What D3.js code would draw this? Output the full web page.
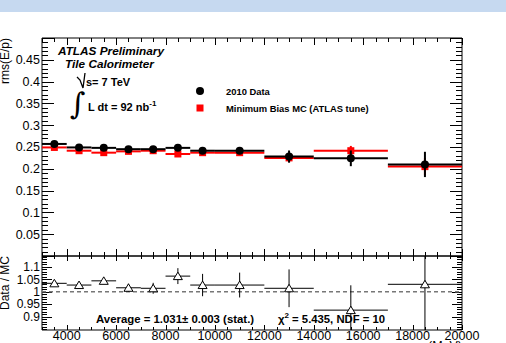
<!DOCTYPE html>
<html><head><meta charset="utf-8">
<script src="https://cdn.jsdelivr.net/npm/d3@7"></script>
<style>
html,body{margin:0;padding:0;background:#fff;}
svg{display:block;font-family:"Liberation Sans",Arial,Helvetica,sans-serif;}
</style></head>
<body>
<svg id="c" width="506" height="343"></svg>
<script>
// ---------- data ----------
const binLow  = [3000,4000,5000,6000,7000,8000,9000,10000,12000,14000,17000];
const binHigh = [4000,5000,6000,7000,8000,9000,10000,12000,14000,17000,20000];
const pCenter = [3500,4500,5500,6500,7500,8500,9500,11000,13000,15500,18500];
const dataRms = [0.257,0.249,0.248,0.245,0.245,0.248,0.2415,0.2415,0.228,0.224,0.210];
const dataErr = [0.002,0.002,0.002,0.002,0.003,0.003,0.004,0.005,0.014,0.018,0.029];
const mcRms   = [0.249,0.2415,0.237,0.240,0.2415,0.234,0.237,0.237,0.225,0.2415,0.205];
const mcErr   = [0.002,0.002,0.002,0.002,0.002,0.003,0.003,0.004,0.009,0.011,0.020];
const ratio   = [1.034,1.027,1.044,1.016,1.014,1.063,1.027,1.027,1.014,0.926,1.030];
const ratioErr= [0.010,0.010,0.008,0.016,0.022,0.032,0.045,0.050,0.076,0.100,0.200];
const xTicks  = [4000,6000,8000,10000,12000,14000,16000,18000,20000];
const yTopTicks = [0.05,0.1,0.15,0.2,0.25,0.3,0.35,0.4,0.45];
const yBotTicks = [0.9,0.95,1,1.05,1.1];
const legendLabels = ["2010 Data","Minimum Bias MC (ATLAS tune)"];

// ---------- layout ----------
const L=42, R=462, T1=38, B1=256, T2=256, B2=330;
const svg = d3.select("#c");
svg.append("rect").attr("x",0).attr("y",0).attr("width",506).attr("height",12).attr("fill","#c6d9f0");

const x = d3.scaleLinear().domain([3000,20000]).range([L,R]);
const yT = d3.scaleLinear().domain([0,0.5]).range([B1,T1]);
const yB = d3.scaleLinear().domain([0.846,1.144]).range([B2,T2]);

const minorX = d3.range(3000,20001,500);
const minorYT = d3.range(0,0.5001,0.01);
const minorYB = d3.range(0.85,1.1401,0.01);

function isMajor(v, arr){ return arr.some(a=>Math.abs(a-v)<1e-6); }

function frame(top,bottom,yScale,yMajors,yMinors,xMajLen,xMinLen,yMajLen,yMinLen,drawXLabels,labSize){
  const g = svg.append("g");
  [[L,1],[R,-1]].forEach(([px,dir])=>{
    g.append("line").attr("x1",px).attr("x2",px).attr("y1",top).attr("y2",bottom).attr("stroke","#000");
    yMinors.forEach(v=>{
      const yy = yScale(v); if(yy<top-0.1||yy>bottom+0.1) return;
      const len = isMajor(+v.toFixed(4), yMajors.concat([0,0.5]))? yMajLen : yMinLen;
      g.append("line").attr("x1",px).attr("x2",px+dir*len).attr("y1",Math.round(yy)+0.5).attr("y2",Math.round(yy)+0.5).attr("stroke","#000");
    });
  });
  [[top,1],[bottom,-1]].forEach(([py,dir])=>{
    g.append("line").attr("x1",L).attr("x2",R).attr("y1",py).attr("y2",py).attr("stroke","#000");
    minorX.forEach(v=>{
      const xx = Math.round(x(v))+0.5;
      const len = (v%2000===0)? xMajLen : xMinLen;
      g.append("line").attr("x1",xx).attr("x2",xx).attr("y1",py).attr("y2",py+dir*len).attr("stroke","#000");
    });
  });
  yMajors.forEach(v=>{
    g.append("text").attr("x",L-2).attr("y",yScale(v)+4.3).attr("text-anchor","end")
      .attr("font-size",labSize).text(d3.format("")(v));
  });
  if(drawXLabels){
    xTicks.forEach(v=>{
      g.append("text").attr("x",x(v)).attr("y",340).attr("text-anchor","middle")
        .attr("font-size",12.5).text(v);
    });
  }
}
frame(T1,B1,yT,yTopTicks,minorYT,7,4,12,6,false,12.5);
frame(T2,B2,yB,yBotTicks,minorYB,5,3,10,5,true,12);

// ---------- top panel marks ----------
const gTop = svg.append("g");
function series(vals,errs,color,isSquare){
  vals.forEach((v,i)=>{
    gTop.append("line").attr("x1",x(binLow[i])).attr("x2",x(binHigh[i])).attr("y1",yT(v)).attr("y2",yT(v))
      .attr("stroke",color).attr("stroke-width",2);
    gTop.append("line").attr("x1",x(pCenter[i])).attr("x2",x(pCenter[i])).attr("y1",yT(v-errs[i])).attr("y2",yT(v+errs[i]))
      .attr("stroke",color).attr("stroke-width",2);
    if(isSquare){
      gTop.append("rect").attr("x",x(pCenter[i])-3.5).attr("y",yT(v)-3.5).attr("width",7).attr("height",7).attr("fill",color);
    } else {
      gTop.append("circle").attr("cx",x(pCenter[i])).attr("cy",yT(v)).attr("r",4).attr("fill",color);
    }
  });
}
series(mcRms,mcErr,"#ff0000",true);
series(dataRms,dataErr,"#000",false);

// ---------- ratio panel ----------
const gBot = svg.append("g");
gBot.append("line").attr("x1",L).attr("x2",R).attr("y1",yB(1)).attr("y2",yB(1))
  .attr("stroke","#777").attr("stroke-width",1.5).attr("stroke-dasharray","4,3");
svg.append("clipPath").attr("id","cp").append("rect").attr("x",L).attr("y",T2).attr("width",R-L).attr("height",B2-T2);
const gr = gBot.append("g").attr("clip-path","url(#cp)");
ratio.forEach((v,i)=>{
  const cx = x(pCenter[i]), cy = yB(v);
  gr.append("line").attr("x1",x(binLow[i])).attr("x2",x(binHigh[i])).attr("y1",cy).attr("y2",cy).attr("stroke","#000").attr("stroke-width",1);
  gr.append("line").attr("x1",cx).attr("x2",cx).attr("y1",yB(v-ratioErr[i])).attr("y2",yB(v+ratioErr[i])).attr("stroke","#000").attr("stroke-width",1);
  gr.append("path").attr("d",`M${cx-4.5},${cy+3.5}L${cx+4.5},${cy+3.5}L${cx},${cy-4}Z`)
    .attr("fill","#fff").attr("stroke","#000").attr("stroke-width",1);
});

// ---------- texts ----------
svg.append("text").attr("x",58).attr("y",54.5).attr("font-size",11.8).attr("font-weight","bold").attr("font-style","italic").text("ATLAS Preliminary");
svg.append("text").attr("x",65).attr("y",68).attr("font-size",11.8).attr("font-weight","bold").attr("font-style","italic").text("Tile Calorimeter");
svg.append("path").attr("d","M77,77 L80,80 L83,88 L85,73").attr("fill","none").attr("stroke","#000").attr("stroke-width",1.3);
svg.append("text").attr("x",86).attr("y",85.5).attr("font-size",11).attr("font-weight","bold").text("s= 7 TeV");
svg.append("text").attr("x",70).attr("y",114).attr("font-size",30).attr("font-family","DejaVu Serif").text("∫");
const lt = svg.append("text").attr("x",88).attr("y",110.5).attr("font-size",11).attr("font-weight","bold");
lt.append("tspan").text("L dt = 92 nb");
lt.append("tspan").attr("dy",-5).attr("font-size",8).text("-1");

// legend
svg.append("circle").attr("cx",200).attr("cy",91).attr("r",4).attr("fill","#000");
svg.append("rect").attr("x",196.5).attr("y",104.5).attr("width",7).attr("height",7).attr("fill","#ff0000");
svg.append("text").attr("x",226).attr("y",94.5).attr("font-size",9.4).attr("font-weight","bold").text(legendLabels[0]);
svg.append("text").attr("x",226).attr("y",111.5).attr("font-size",9.4).attr("font-weight","bold").text(legendLabels[1]);

// ratio texts
svg.append("text").attr("x",96).attr("y",323).attr("font-size",11.4).attr("font-weight","bold").text("Average = 1.031\u00B1 0.003 (stat.)");
const ch = svg.append("text").attr("x",278).attr("y",323).attr("font-size",11.3).attr("font-weight","bold");
ch.append("tspan").text("\u03C7");
ch.append("tspan").attr("dy",-5).attr("font-size",8).text("2");
ch.append("tspan").attr("dy",5).text(" = 5.435, NDF = 10");

// axis titles
svg.append("text").attr("transform","translate(9,38) rotate(-90)").attr("text-anchor","end").attr("font-size",12).text("rms(E/p)");
svg.append("text").attr("transform","translate(9,256) rotate(-90)").attr("text-anchor","end").attr("font-size",12).text("Data / MC");
svg.append("text").attr("x",462).attr("y",350).attr("text-anchor","end").attr("font-size",12.5).text("p (MeV)");
</script>
</body></html>
